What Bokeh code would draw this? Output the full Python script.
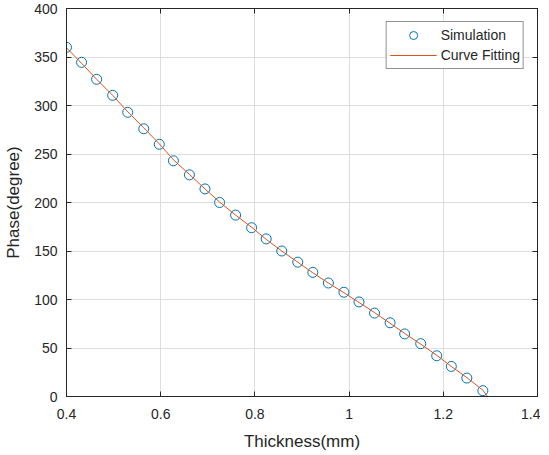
from bokeh.plotting import figure
from bokeh.models import LinearAxis, Range1d, FixedTicker, Legend, LegendItem, ColumnDataSource
from bokeh.embed import file_html
from bokeh.resources import INLINE

# Simulation data
thickness = [0.400, 0.432, 0.464, 0.498, 0.530, 0.564, 0.597, 0.627, 0.661, 0.694,
             0.725, 0.759, 0.793, 0.824, 0.857, 0.891, 0.923, 0.956, 0.989, 1.021,
             1.054, 1.087, 1.118, 1.152, 1.186, 1.217, 1.250, 1.284]
phase = [360.0, 344.5, 327.0, 310.5, 293.0, 276.0, 260.0, 243.0, 228.5, 214.0,
         200.0, 187.0, 174.0, 162.5, 150.0, 138.5, 128.0, 117.0, 107.5, 97.5,
         86.0, 76.0, 64.5, 54.5, 42.0, 31.0, 19.0, 6.0]

# Curve fitting line
fit_x = [0.400, 0.432, 0.464, 0.498, 0.530, 0.564, 0.597, 0.627, 0.661, 0.694,
         0.725, 0.759, 0.793, 0.824, 0.857, 0.891, 0.923, 0.956, 0.989, 1.021,
         1.054, 1.087, 1.118, 1.152, 1.186, 1.217, 1.250, 1.284, 1.294]
fit_y = [359.5, 343.5, 327.0, 310.5, 293.5, 277.0, 260.5, 244.0, 229.0, 214.0,
         200.5, 187.0, 174.5, 162.0, 150.0, 138.5, 127.5, 117.0, 107.0, 97.0,
         86.5, 75.5, 65.0, 54.0, 42.5, 31.0, 19.5, 6.5, 0.0]

x_ticks = [0.4, 0.6, 0.8, 1.0, 1.2, 1.4]
y_ticks = [0, 50, 100, 150, 200, 250, 300, 350, 400]

FONT = "Liberation Sans"
TXT = "#262626"

p = figure(width=540, height=453, output_backend="svg", toolbar_location=None,
           x_range=Range1d(0.4, 1.4), y_range=Range1d(0, 400),
           min_border_left=66, min_border_right=3, min_border_top=8, min_border_bottom=54)
p.background_fill_color = "white"
p.border_fill_color = "white"
p.outline_line_color = TXT
p.outline_line_width = 1

for ax, ticks in ((p.xaxis[0], x_ticks), (p.yaxis[0], y_ticks)):
    ax.ticker = FixedTicker(ticks=ticks)
    ax.major_tick_in = 5
    ax.major_tick_out = 0
    ax.minor_tick_in = 0
    ax.minor_tick_out = 0
    ax.axis_line_color = TXT
    ax.major_tick_line_color = TXT
    ax.major_label_text_font = FONT
    ax.major_label_text_font_size = "14px"
    ax.major_label_text_color = TXT
    ax.axis_label_text_font = FONT
    ax.axis_label_text_font_size = "17px"
    ax.axis_label_text_font_style = "normal"
    ax.axis_label_text_color = TXT

p.xaxis[0].major_label_overrides = {1.0: "1"}
p.xaxis[0].axis_label = "Thickness(mm)"
p.xaxis[0].major_label_standoff = 12
p.xaxis[0].axis_label_standoff = 10
p.yaxis[0].axis_label = "Phase(degree)"
p.yaxis[0].major_label_standoff = 9
p.yaxis[0].axis_label_standoff = 8

# box ticks on top and right (no labels)
top = LinearAxis(ticker=FixedTicker(ticks=x_ticks), major_tick_in=5, major_tick_out=0,
                 minor_tick_in=0, minor_tick_out=0,
                 major_label_overrides={t: "" for t in x_ticks},
                 major_label_standoff=0, axis_line_color=TXT, major_tick_line_color=TXT)
right = LinearAxis(ticker=FixedTicker(ticks=y_ticks), major_tick_in=5, major_tick_out=0,
                   minor_tick_in=0, minor_tick_out=0,
                   major_label_overrides={t: "" for t in y_ticks},
                   major_label_standoff=0, axis_line_color=TXT, major_tick_line_color=TXT)
p.add_layout(top, "above")
p.add_layout(right, "right")

p.xgrid.ticker = FixedTicker(ticks=x_ticks)
p.ygrid.ticker = FixedTicker(ticks=y_ticks)
p.xgrid.grid_line_color = "#dedede"
p.ygrid.grid_line_color = "#dedede"

src = ColumnDataSource(dict(x=thickness, y=phase))
fsrc = ColumnDataSource(dict(x=fit_x, y=fit_y))
r_sim = p.scatter("x", "y", source=src, marker="circle", size=10, fill_color=None,
                  line_color="#0072BD", line_width=1)
r_fit = p.line("x", "y", source=fsrc, line_color="#D95319", line_width=1)

legend = Legend(items=[LegendItem(label="Simulation", renderers=[r_sim]),
                       LegendItem(label="Curve Fitting", renderers=[r_fit])],
                location="top_right")
legend.margin = 13
legend.padding = 3
legend.spacing = 0
legend.glyph_width = 47
legend.glyph_height = 20
legend.label_height = 20
legend.label_standoff = 4
legend.label_text_font = FONT
legend.label_text_font_size = "14px"
legend.label_text_color = TXT
legend.border_line_color = TXT
legend.border_line_width = 1
legend.background_fill_color = "white"
legend.background_fill_alpha = 1
p.add_layout(legend, "center")

open("out.html", "w").write(file_html(p, INLINE))
